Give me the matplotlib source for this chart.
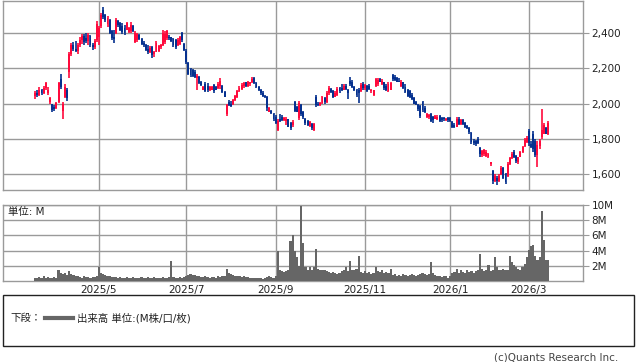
import matplotlib.pyplot as plt
import pandas as pd
from matplotlib.patches import Rectangle
from matplotlib.lines import Line2D

plt.rcParams['font.family'] = ['DejaVu Sans', 'Noto Sans CJK JP']

# 日足データ (2025/3/18 - 2026/3/13)
opens = [2045, 2060, 2050, 2075, 2060, 2090, 2060, 2010, 1995, 1980,
         1975, 2010, 2140, 1960, 2040, 2080, 2180, 2280, 2335, 2310,
         2300, 2330, 2360, 2385, 2370, 2355, 2385, 2335, 2320, 2360,
         2380, 2440, 2530, 2500, 2450, 2475, 2410, 2380, 2400, 2470,
         2455, 2440, 2430, 2420, 2405, 2410, 2440, 2350, 2360, 2390,
         2365, 2345, 2335, 2310, 2290, 2320, 2280, 2295, 2300, 2320,
         2330, 2350, 2370, 2380, 2375, 2365, 2360, 2330, 2340, 2400,
         2340, 2300, 2230, 2195, 2190, 2180, 2145, 2150, 2125, 2080,
         2110, 2100, 2075, 2080, 2105, 2095, 2090, 2100, 2100, 2065,
         1940, 2010, 2000, 1995, 2020, 2040, 2070, 2085, 2100, 2120,
         2100, 2110, 2120, 2145, 2115, 2095, 2075, 2060, 2045, 2040,
         1955, 1960, 1940, 1925, 1850, 1915, 1925, 1905, 1900, 1910,
         1890, 1880, 2010, 1980, 1920, 1990, 1950, 1915, 1900, 1875,
         1885, 1850, 2040, 2000, 1990, 2005, 2030, 2010, 2060, 2085,
         2070, 2040, 2050, 2090, 2090, 2080, 2100, 2080, 2130, 2120,
         2095, 2080, 2080, 2070, 2110, 2090, 2100, 2100, 2070, 2050,
         2100, 2110, 2140, 2110, 2120, 2100, 2070, 2080, 2160, 2150,
         2145, 2130, 2100, 2120, 2095, 2080, 2070, 2050, 2030, 2010,
         1990, 1985, 2010, 1975, 1925, 1925, 1940, 1925, 1915, 1910,
         1930, 1920, 1915, 1905, 1920, 1920, 1895, 1880, 1870, 1915,
         1885, 1905, 1890, 1875, 1860, 1835, 1790, 1790, 1800, 1750,
         1710, 1715, 1705, 1700, 1660, 1620, 1560, 1580, 1560, 1600,
         1635, 1600, 1590, 1660, 1690, 1725, 1705, 1670, 1700, 1725,
         1760, 1780, 1845, 1770, 1830, 1790, 1710, 1760, 1810, 1830,
         1860, 1830]
highs = [2070, 2080, 2095, 2085, 2100, 2125, 2095, 2035, 2000, 1990,
         2010, 2125, 2170, 2010, 2110, 2090, 2290, 2345, 2350, 2355,
         2345, 2375, 2395, 2395, 2400, 2400, 2390, 2345, 2365, 2470,
         2440, 2515, 2550, 2510, 2495, 2480, 2420, 2420, 2485, 2475,
         2465, 2455, 2445, 2465, 2435, 2465, 2445, 2410, 2400, 2395,
         2370, 2355, 2340, 2330, 2325, 2325, 2300, 2355, 2330, 2340,
         2415, 2410, 2415, 2390, 2380, 2370, 2365, 2370, 2385, 2405,
         2345, 2310, 2235, 2200, 2195, 2190, 2170, 2155, 2130, 2100,
         2120, 2115, 2100, 2100, 2110, 2100, 2120, 2145, 2105, 2070,
         2000, 2020, 2015, 2025, 2050, 2075, 2100, 2115, 2120, 2125,
         2130, 2125, 2150, 2150, 2125, 2100, 2085, 2070, 2050, 2045,
         1980, 1965, 1945, 1935, 1910, 1940, 1935, 1925, 1925, 1915,
         1895, 1905, 2015, 1985, 2015, 1995, 1960, 1920, 1905, 1900,
         1890, 1890, 2050, 2010, 2010, 2045, 2040, 2070, 2100, 2090,
         2075, 2070, 2095, 2095, 2110, 2110, 2110, 2085, 2150, 2135,
         2100, 2085, 2090, 2115, 2120, 2110, 2105, 2110, 2085, 2080,
         2145, 2145, 2145, 2140, 2125, 2110, 2120, 2125, 2170, 2165,
         2150, 2145, 2135, 2125, 2110, 2085, 2075, 2060, 2035, 2015,
         1995, 1990, 2015, 1985, 1945, 1940, 1945, 1930, 1935, 1935,
         1935, 1925, 1925, 1920, 1925, 1925, 1900, 1890, 1925, 1925,
         1915, 1910, 1895, 1880, 1865, 1840, 1800, 1795, 1810, 1755,
         1735, 1740, 1735, 1720, 1670, 1625, 1600, 1590, 1600, 1645,
         1640, 1605, 1670, 1700, 1725, 1735, 1710, 1700, 1730, 1760,
         1805, 1815, 1855, 1790, 1845, 1800, 1790, 1800, 1970, 1890,
         1870, 1900]
lows = [2025, 2040, 2045, 2050, 2055, 2080, 2050, 1995, 1955, 1960,
        1970, 2005, 2085, 1915, 2030, 2015, 2145, 2270, 2300, 2290,
        2280, 2320, 2340, 2335, 2345, 2330, 2320, 2305, 2310, 2350,
        2330, 2430, 2480, 2465, 2435, 2395, 2360, 2345, 2395, 2435,
        2410, 2395, 2390, 2415, 2400, 2400, 2405, 2345, 2350, 2360,
        2330, 2320, 2300, 2280, 2285, 2260, 2265, 2290, 2295, 2310,
        2325, 2340, 2360, 2360, 2350, 2320, 2310, 2325, 2335, 2350,
        2300, 2225, 2160, 2150, 2150, 2145, 2075, 2110, 2100, 2075,
        2065, 2065, 2070, 2075, 2060, 2075, 2085, 2085, 2060, 2035,
        1930, 1985, 1980, 1990, 2015, 2030, 2065, 2080, 2090, 2095,
        2095, 2100, 2115, 2110, 2090, 2070, 2050, 2040, 2030, 1960,
        1950, 1940, 1900, 1885, 1845, 1895, 1900, 1900, 1880, 1865,
        1850, 1870, 1950, 1950, 1905, 1930, 1915, 1880, 1875, 1870,
        1850, 1845, 1980, 1985, 1985, 2000, 2000, 2005, 2050, 2060,
        2030, 2035, 2045, 2060, 2070, 2075, 2075, 2025, 2100, 2090,
        2070, 2040, 2005, 2065, 2080, 2080, 2065, 2080, 2060, 2045,
        2095, 2100, 2120, 2105, 2080, 2070, 2065, 2075, 2130, 2130,
        2120, 2120, 2095, 2085, 2060, 2035, 2030, 2020, 1995, 1990,
        1960, 1920, 1950, 1945, 1920, 1915, 1895, 1890, 1910, 1905,
        1895, 1895, 1900, 1900, 1895, 1895, 1860, 1860, 1865, 1880,
        1880, 1880, 1860, 1855, 1830, 1770, 1765, 1760, 1770, 1700,
        1700, 1705, 1695, 1690, 1645, 1545, 1555, 1540, 1555, 1595,
        1570, 1545, 1585, 1650, 1685, 1690, 1665, 1660, 1695, 1720,
        1755, 1775, 1760, 1750, 1725, 1700, 1640, 1745, 1800, 1825,
        1825, 1820]
closes = [2060, 2050, 2075, 2060, 2090, 2115, 2075, 2030, 1965, 1970,
          2005, 2115, 2095, 2000, 2095, 2030, 2280, 2335, 2310, 2300,
          2330, 2360, 2385, 2350, 2355, 2390, 2335, 2320, 2355, 2450,
          2430, 2505, 2490, 2475, 2485, 2400, 2370, 2365, 2475, 2445,
          2420, 2405, 2400, 2455, 2430, 2445, 2410, 2400, 2395, 2365,
          2340, 2330, 2305, 2290, 2315, 2275, 2295, 2345, 2325, 2335,
          2400, 2395, 2410, 2370, 2355, 2330, 2320, 2360, 2375, 2360,
          2305, 2235, 2170, 2160, 2155, 2150, 2155, 2115, 2105, 2095,
          2070, 2075, 2095, 2095, 2070, 2080, 2110, 2130, 2065, 2040,
          1990, 1990, 1985, 2020, 2045, 2070, 2090, 2105, 2115, 2100,
          2120, 2120, 2140, 2115, 2095, 2075, 2060, 2045, 2035, 1975,
          1975, 1945, 1910, 1890, 1900, 1900, 1905, 1920, 1915, 1870,
          1860, 1895, 1960, 1955, 2005, 1940, 1925, 1890, 1880, 1895,
          1860, 1885, 1990, 1990, 2005, 2035, 2010, 2060, 2090, 2065,
          2040, 2060, 2085, 2070, 2080, 2100, 2085, 2060, 2110, 2095,
          2075, 2050, 2060, 2105, 2090, 2105, 2070, 2085, 2080, 2075,
          2140, 2135, 2125, 2130, 2090, 2080, 2110, 2115, 2140, 2135,
          2125, 2125, 2125, 2090, 2065, 2045, 2040, 2025, 2000, 1995,
          1970, 1930, 1965, 1950, 1940, 1935, 1900, 1905, 1930, 1925,
          1900, 1905, 1910, 1915, 1905, 1900, 1870, 1865, 1910, 1885,
          1905, 1885, 1870, 1860, 1840, 1785, 1775, 1770, 1775, 1715,
          1730, 1735, 1725, 1715, 1665, 1560, 1590, 1560, 1590, 1635,
          1580, 1555, 1660, 1690, 1715, 1700, 1675, 1695, 1725, 1755,
          1795, 1805, 1775, 1755, 1740, 1710, 1765, 1790, 1850, 1880,
          1830, 1890]
# 出来高 (百万株)
volumes = [0.4, 0.35, 0.5, 0.45, 0.6, 0.4, 0.5, 0.45, 0.4, 0.5,
           0.45, 1.4, 1.1, 0.9, 1.0, 0.8, 1.3, 0.9, 0.8, 0.6,
           0.7, 0.5, 0.45, 0.7, 0.5, 0.5, 0.45, 0.5, 0.55, 0.6,
           1.9, 1.0, 0.9, 0.8, 0.7, 0.6, 0.5, 0.55, 0.5, 0.45,
           0.5, 0.4, 0.45, 0.5, 0.45, 0.4, 0.5, 0.45, 0.4, 0.45,
           0.5, 0.4, 0.45, 0.5, 0.45, 0.4, 0.5, 0.45, 0.4, 0.35,
           0.5, 0.45, 0.4, 0.5, 2.6, 0.5, 0.45, 0.4, 0.5, 0.45,
           0.5, 0.6, 0.8, 0.9, 0.8, 0.8, 0.7, 0.6, 0.55, 0.5,
           0.6, 0.5, 0.45, 0.5, 0.55, 0.45, 0.6, 0.5, 0.6, 0.7,
           1.6, 1.1, 0.9, 0.8, 0.7, 0.6, 0.65, 0.55, 0.6, 0.5,
           0.5, 0.45, 0.4, 0.45, 0.4, 0.35, 0.4, 0.3, 0.4, 0.5,
           0.6, 0.5, 0.45, 0.6, 4.0, 1.4, 1.3, 1.2, 1.3, 1.5,
           5.2, 6.1, 3.9, 3.1, 2.0, 9.9, 5.0, 1.9, 1.5, 1.9,
           1.4, 1.9, 4.2, 1.6, 1.5, 1.4, 1.5, 1.3, 1.2, 1.1,
           1.2, 1.0, 0.9, 1.1, 1.3, 1.4, 1.9, 1.3, 2.6, 1.5,
           1.4, 1.6, 3.3, 1.2, 1.1, 1.3, 1.0, 1.2, 0.9, 1.0,
           1.9, 1.3, 1.2, 1.4, 1.1, 1.2, 1.0, 1.6, 0.8, 0.9,
           0.7, 0.8, 0.7, 0.9, 0.8, 0.7, 0.8, 0.9, 0.8, 0.7,
           0.8, 0.9, 1.0, 0.9, 0.8, 0.9, 2.5, 1.0, 0.8, 0.7,
           0.6, 0.5, 0.7, 0.6, 0.4, 0.6, 1.0, 1.2, 1.6, 1.1,
           1.4, 1.2, 1.1, 1.5, 1.2, 1.3, 1.1, 1.3, 1.4, 3.6,
           1.6, 1.3, 1.5, 2.1, 1.3, 1.5, 3.1, 1.9, 1.4, 1.5,
           1.6, 1.4, 1.5, 3.3, 2.5, 2.1, 1.9, 1.6, 1.4, 1.8,
           2.3, 3.1, 4.1, 4.6, 4.7, 3.3, 2.8, 3.2, 9.2, 5.4,
           2.8, 2.7]

jp_holidays = ['2025-03-20', '2025-04-29', '2025-05-05', '2025-05-06',
               '2025-07-21', '2025-08-11', '2025-09-15', '2025-09-23',
               '2025-10-13', '2025-11-03', '2025-11-24', '2025-12-31',
               '2026-01-01', '2026-01-02', '2026-01-12', '2026-02-11',
               '2026-02-23']
dates = pd.bdate_range('2025-03-18', '2026-03-13', freq='C', holidays=jp_holidays)
n = len(closes)
dates = dates[:n]
idx = list(range(n))

price_ticks = [1600, 1800, 2000, 2200, 2400]
vol_ticks = [2, 4, 6, 8, 10]
label_months = [5, 7, 9, 11, 1, 3]

# 月初の位置
month_pos = []
month_lbl = []
for i in range(1, n):
    if dates[i].month != dates[i - 1].month and dates[i].month in label_months:
        month_pos.append(i)
        month_lbl.append(f"{dates[i].year}/{dates[i].month}")

UP = '#ff0a3c'
DOWN = '#06318f'
GRID = '#9a9a9a'
TXT = '#222222'

fig = plt.figure(figsize=(6.38, 3.62), dpi=100)
ax1 = fig.add_axes([3 / 638, 1 - 190 / 362, 580 / 638, 189 / 362])
ax2 = fig.add_axes([3 / 638, 1 - 281 / 362, 580 / 638, 76 / 362])

# ローソク足
cols = [UP if c >= o else DOWN for o, c in zip(opens, closes)]
ax1.vlines(idx, lows, highs, colors=cols, linewidth=1.2, zorder=3)
bodies = [max(abs(c - o), 6) for o, c in zip(opens, closes)]
bottoms = [min(o, c) for o, c in zip(opens, closes)]
ax1.bar(idx, bodies, bottom=bottoms, width=0.9, color=cols, linewidth=0, zorder=3)

# 出来高
ax2.bar(idx, volumes, width=1.0, color='#666666', linewidth=0, zorder=3)

for ax in (ax1, ax2):
    ax.set_xlim(-15.1, 257.4)
    ax.set_xticks(month_pos)
    ax.grid(True, color=GRID, linewidth=1.0)
    ax.set_axisbelow(True)
    ax.yaxis.tick_right()
    ax.tick_params(axis='y', length=4, color=GRID, labelsize=7.5, pad=2,
                   labelcolor=TXT)
    for s in ax.spines.values():
        s.set_color(GRID)
        s.set_linewidth(1.0)

ax1.set_ylim(1510, 2582)
ax1.set_yticks(price_ticks)
ax1.set_yticklabels([f"{v:,}" for v in price_ticks])
ax1.tick_params(axis='x', length=0, labelbottom=False)

ax2.set_ylim(0, 10)
ax2.set_yticks(vol_ticks)
ax2.set_yticklabels([f"{v}M" for v in vol_ticks])
ax2.set_xticklabels(month_lbl)
ax2.tick_params(axis='x', length=0, labelsize=7.5, pad=3, labelcolor=TXT)
ax2.text(0.008, 0.97, '単位: M', transform=ax2.transAxes, fontsize=7.5,
         va='top', ha='left', color=TXT)

# 凡例ボックス
fig.patches.append(Rectangle((3 / 638, 1 - 346 / 362), 631 / 638, 51 / 362,
                             transform=fig.transFigure, fill=False,
                             edgecolor=TXT, linewidth=1.0))
ly = 1 - 318 / 362
fig.text(10 / 638, ly, '下段：', fontsize=7.5, va='center', ha='left', color=TXT)
fig.lines.append(Line2D([45 / 638, 73 / 638], [ly, ly], transform=fig.transFigure,
                        color='#666666', linewidth=3))
fig.text(77 / 638, ly, '出来高 単位:(M株/口/枚)', fontsize=7.5, va='center',
         ha='left', color=TXT)
fig.text(618 / 638, 1 - 357 / 362, '(c)Quants Research Inc.', fontsize=7.5,
         va='center', ha='right', color='#444444')

fig.savefig('out.png', dpi=100)
